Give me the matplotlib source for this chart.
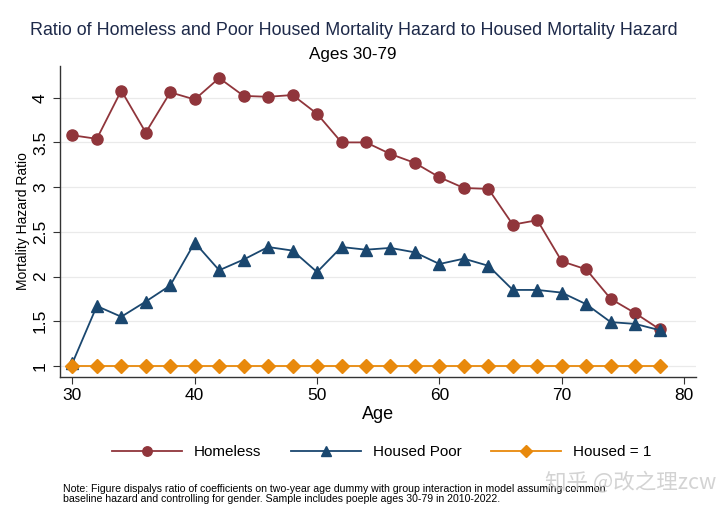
import matplotlib
matplotlib.use("Agg")
import matplotlib.pyplot as plt

plt.rcParams['font.family'] = ['Liberation Sans', 'DejaVu Sans']

ages = list(range(30, 80, 2))
homeless = [3.58, 3.54, 4.08, 3.61, 4.06, 3.98, 4.22, 4.02, 4.01, 4.03, 3.82, 3.50,
            3.50, 3.37, 3.27, 3.11, 2.99, 2.98, 2.58, 2.63, 2.17, 2.08, 1.75, 1.59, 1.41]
housed_poor = [1.03, 1.67, 1.55, 1.72, 1.90, 2.38, 2.07, 2.19, 2.33, 2.29, 2.05, 2.33,
               2.30, 2.32, 2.27, 2.14, 2.20, 2.12, 1.85, 1.85, 1.82, 1.69, 1.49, 1.47, 1.40]
housed = [1.0] * len(ages)

y_ticks = [1, 1.5, 2, 2.5, 3, 3.5, 4]
y_labels = ["1", "1.5", "2", "2.5", "3", "3.5", "4"]
x_ticks = [30, 40, 50, 60, 70, 80]

c_home = "#90353B"
c_poor = "#1A476F"
c_housed = "#E8890C"

fig = plt.figure(figsize=(7.2, 5.08), dpi=100)
ax = fig.add_axes([0.084, 0.258, 0.882, 0.612])

ax.plot(ages, homeless, color=c_home, lw=1.3, marker="o", ms=8, label="Homeless", zorder=3)
ax.plot(ages, housed_poor, color=c_poor, lw=1.3, marker="^", ms=8.5, label="Housed Poor", zorder=4)
ax.plot(ages, housed, color=c_housed, lw=1.3, marker="D", ms=7.5, label="Housed = 1", zorder=5)

ax.set_xlim(29.03, 80.93)
ax.set_ylim(0.877, 4.354)
ax.set_yticks(y_ticks)
ax.set_yticklabels(y_labels, rotation=90, va="center", fontsize=12.5)
ax.set_xticks(x_ticks)
ax.tick_params(axis="x", labelsize=12.5, length=5, color="#333333", pad=3)
ax.tick_params(axis="y", length=5, color="#333333", pad=4)
ax.grid(axis="y", color="#EAEAEA", lw=0.9, zorder=0)
ax.set_axisbelow(True)
for s in ["top", "right"]:
    ax.spines[s].set_visible(False)
for s in ["left", "bottom"]:
    ax.spines[s].set_color("#333333")
    ax.spines[s].set_linewidth(1.0)

ax.set_xlabel("Age", fontsize=13, labelpad=2)
ax.set_ylabel("Mortality Hazard Ratio", fontsize=10, labelpad=2)

fig.text(0.492, 0.94, "Ratio of Homeless and Poor Housed Mortality Hazard to Housed Mortality Hazard",
         ha="center", va="center", fontsize=12.9, color="#1E2A4A")
fig.text(0.49, 0.892, "Ages 30-79", ha="center", va="center", fontsize=12.3)

fig.legend(loc="center", bbox_to_anchor=(0.53, 0.11), ncol=3, frameon=False,
           fontsize=11, handlelength=4.6, columnspacing=1.95, handletextpad=0.75,
           markerscale=0.85)

fig.text(0.088, 0.008, "Note: Figure dispalys ratio of coefficients on two-year age dummy with group interaction in model assuming common\n"
         "baseline hazard and controlling for gender. Sample includes poeple ages 30-79 in 2010-2022.",
         ha="left", va="bottom", fontsize=7.6, linespacing=0.95)

fig.text(0.757, 0.049, "知乎 @改之理zcw", ha="left", va="center", fontsize=15.5,
         color="#C8C8C8", alpha=0.8, family=["Noto Sans CJK SC", "DejaVu Sans"])

fig.savefig("out.png", dpi=100)
